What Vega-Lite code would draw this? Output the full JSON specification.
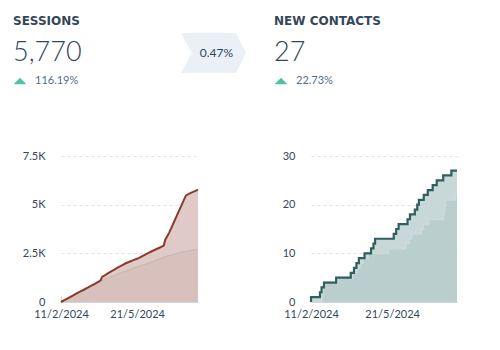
{
  "$schema": "https://vega.github.io/schema/vega-lite/v6.json",
  "padding": {"left": 13, "top": 15, "right": 5, "bottom": 5},
  "background": "white",
  "config": {
    "view": {"stroke": null},
    "font": "Lato",
    "title": {"anchor": "start", "font": "DejaVu Sans", "fontSize": 12, "fontWeight": "bold", "color": "#33475b", "subtitleFont": "Lato", "subtitleFontSize": 27, "subtitleFontWeight": 300, "subtitleColor": "#33475b", "subtitlePadding": 12, "offset": -50},
    "axis": {"labelFont": "Lato", "labelFontSize": 11, "labelColor": "#33475b", "title": null}
  },
  "datasets": {
    "sessions": [
      {"date": "2024-02-11", "series": "current", "value": 0},
      {"date": "2024-02-16", "series": "current", "value": 105},
      {"date": "2024-02-21", "series": "current", "value": 210},
      {"date": "2024-02-26", "series": "current", "value": 320},
      {"date": "2024-03-02", "series": "current", "value": 430},
      {"date": "2024-03-07", "series": "current", "value": 530},
      {"date": "2024-03-12", "series": "current", "value": 630},
      {"date": "2024-03-17", "series": "current", "value": 735},
      {"date": "2024-03-22", "series": "current", "value": 840},
      {"date": "2024-03-27", "series": "current", "value": 945},
      {"date": "2024-04-01", "series": "current", "value": 1060},
      {"date": "2024-04-03", "series": "current", "value": 1110},
      {"date": "2024-04-05", "series": "current", "value": 1290},
      {"date": "2024-04-09", "series": "current", "value": 1380},
      {"date": "2024-04-13", "series": "current", "value": 1480},
      {"date": "2024-04-17", "series": "current", "value": 1570},
      {"date": "2024-04-21", "series": "current", "value": 1660},
      {"date": "2024-04-26", "series": "current", "value": 1780},
      {"date": "2024-05-01", "series": "current", "value": 1880},
      {"date": "2024-05-06", "series": "current", "value": 1990},
      {"date": "2024-05-11", "series": "current", "value": 2070},
      {"date": "2024-05-16", "series": "current", "value": 2150},
      {"date": "2024-05-21", "series": "current", "value": 2220},
      {"date": "2024-05-26", "series": "current", "value": 2320},
      {"date": "2024-05-31", "series": "current", "value": 2420},
      {"date": "2024-06-05", "series": "current", "value": 2520},
      {"date": "2024-06-10", "series": "current", "value": 2620},
      {"date": "2024-06-15", "series": "current", "value": 2710},
      {"date": "2024-06-20", "series": "current", "value": 2800},
      {"date": "2024-06-25", "series": "current", "value": 2900},
      {"date": "2024-06-27", "series": "current", "value": 3200},
      {"date": "2024-07-02", "series": "current", "value": 3550},
      {"date": "2024-07-06", "series": "current", "value": 3900},
      {"date": "2024-07-10", "series": "current", "value": 4250},
      {"date": "2024-07-15", "series": "current", "value": 4680},
      {"date": "2024-07-20", "series": "current", "value": 5120},
      {"date": "2024-07-24", "series": "current", "value": 5465},
      {"date": "2024-07-28", "series": "current", "value": 5560},
      {"date": "2024-08-01", "series": "current", "value": 5630},
      {"date": "2024-08-05", "series": "current", "value": 5700},
      {"date": "2024-08-09", "series": "current", "value": 5770},
      {"date": "2024-02-11", "series": "previous", "value": 0},
      {"date": "2024-02-21", "series": "previous", "value": 205},
      {"date": "2024-03-02", "series": "previous", "value": 410},
      {"date": "2024-03-12", "series": "previous", "value": 620},
      {"date": "2024-03-22", "series": "previous", "value": 830},
      {"date": "2024-04-01", "series": "previous", "value": 1040},
      {"date": "2024-04-11", "series": "previous", "value": 1200},
      {"date": "2024-04-21", "series": "previous", "value": 1360},
      {"date": "2024-05-01", "series": "previous", "value": 1520},
      {"date": "2024-05-11", "series": "previous", "value": 1660},
      {"date": "2024-05-21", "series": "previous", "value": 1800},
      {"date": "2024-05-31", "series": "previous", "value": 1930},
      {"date": "2024-06-10", "series": "previous", "value": 2070},
      {"date": "2024-06-20", "series": "previous", "value": 2220},
      {"date": "2024-06-30", "series": "previous", "value": 2360},
      {"date": "2024-07-10", "series": "previous", "value": 2470},
      {"date": "2024-07-20", "series": "previous", "value": 2570},
      {"date": "2024-07-30", "series": "previous", "value": 2650},
      {"date": "2024-08-09", "series": "previous", "value": 2700}
    ],
    "contacts": [
      {"date": "2024-02-11", "series": "current", "value": 0},
      {"date": "2024-02-11", "series": "current", "value": 1},
      {"date": "2024-02-22", "series": "current", "value": 2},
      {"date": "2024-02-24", "series": "current", "value": 3},
      {"date": "2024-02-27", "series": "current", "value": 4},
      {"date": "2024-03-13", "series": "current", "value": 5},
      {"date": "2024-03-31", "series": "current", "value": 6},
      {"date": "2024-04-04", "series": "current", "value": 7},
      {"date": "2024-04-07", "series": "current", "value": 8},
      {"date": "2024-04-10", "series": "current", "value": 9},
      {"date": "2024-04-17", "series": "current", "value": 10},
      {"date": "2024-04-25", "series": "current", "value": 11},
      {"date": "2024-04-28", "series": "current", "value": 12},
      {"date": "2024-04-30", "series": "current", "value": 13},
      {"date": "2024-05-23", "series": "current", "value": 14},
      {"date": "2024-05-26", "series": "current", "value": 15},
      {"date": "2024-05-29", "series": "current", "value": 16},
      {"date": "2024-06-09", "series": "current", "value": 17},
      {"date": "2024-06-12", "series": "current", "value": 18},
      {"date": "2024-06-18", "series": "current", "value": 19},
      {"date": "2024-06-21", "series": "current", "value": 20},
      {"date": "2024-06-23", "series": "current", "value": 21},
      {"date": "2024-06-29", "series": "current", "value": 22},
      {"date": "2024-07-04", "series": "current", "value": 23},
      {"date": "2024-07-10", "series": "current", "value": 24},
      {"date": "2024-07-15", "series": "current", "value": 25},
      {"date": "2024-07-23", "series": "current", "value": 26},
      {"date": "2024-08-02", "series": "current", "value": 27},
      {"date": "2024-08-09", "series": "current", "value": 27},
      {"date": "2024-02-11", "series": "previous", "value": 0},
      {"date": "2024-02-24", "series": "previous", "value": 1},
      {"date": "2024-02-25", "series": "previous", "value": 2},
      {"date": "2024-02-26", "series": "previous", "value": 3},
      {"date": "2024-02-28", "series": "previous", "value": 4},
      {"date": "2024-03-15", "series": "previous", "value": 5},
      {"date": "2024-04-02", "series": "previous", "value": 6},
      {"date": "2024-04-07", "series": "previous", "value": 7},
      {"date": "2024-04-11", "series": "previous", "value": 8},
      {"date": "2024-04-15", "series": "previous", "value": 9},
      {"date": "2024-04-21", "series": "previous", "value": 10},
      {"date": "2024-05-16", "series": "previous", "value": 11},
      {"date": "2024-06-07", "series": "previous", "value": 12},
      {"date": "2024-06-11", "series": "previous", "value": 13},
      {"date": "2024-06-14", "series": "previous", "value": 14},
      {"date": "2024-06-26", "series": "previous", "value": 15},
      {"date": "2024-06-28", "series": "previous", "value": 16},
      {"date": "2024-07-05", "series": "previous", "value": 17},
      {"date": "2024-07-23", "series": "previous", "value": 18},
      {"date": "2024-07-24", "series": "previous", "value": 19},
      {"date": "2024-07-25", "series": "previous", "value": 20},
      {"date": "2024-07-26", "series": "previous", "value": 21},
      {"date": "2024-08-07", "series": "previous", "value": 22},
      {"date": "2024-08-09", "series": "previous", "value": 22}
    ]
  },
  "spacing": 5,
  "vconcat": [
    {
      "spacing": 28,
      "hconcat": [
        {
          "width": 140, "height": 128,
          "title": {"text": "SESSIONS", "subtitle": "5,770"},
          "data": {"values": [{"change": "116.19%"}]},
          "layer": [
            {"mark": {"type": "point", "shape": "M-1,0.5L0,-0.5L1,0.5Z", "size": 160, "filled": true, "color": "#4fc1a6", "opacity": 1},
             "encoding": {"x": {"datum": "icon", "type": "nominal", "scale": {"type": "point", "padding": 0, "domain": ["icon", "value"], "range": [7, 22]}, "axis": null}}},
            {"mark": {"type": "text", "align": "left", "baseline": "middle", "font": "Lato", "fontSize": 11, "color": "#516f90"},
             "encoding": {"x": {"datum": "value", "type": "nominal", "axis": null}, "text": {"field": "change"}}}
          ]
        },
        {
          "width": 65, "height": 72,
          "data": {"values": [{"rate": "0.47%"}]},
          "layer": [
            {"mark": {"type": "point", "shape": "M-1,-0.615L0.69,-0.615L1,0L0.69,0.615L-1,0.615L-0.67,0Z", "size": 4225, "filled": true, "color": "#eaf0f6", "opacity": 1, "strokeWidth": 0}, "encoding": {}},
            {"mark": {"type": "text", "align": "center", "baseline": "middle", "dx": 3, "font": "Lato", "fontSize": 12, "color": "#33475b"}, "encoding": {"text": {"field": "rate"}}}
          ]
        },
        {
          "width": 150, "height": 128,
          "title": {"text": "NEW CONTACTS", "subtitle": "27"},
          "data": {"values": [{"change": "22.73%"}]},
          "layer": [
            {"mark": {"type": "point", "shape": "M-1,0.5L0,-0.5L1,0.5Z", "size": 160, "filled": true, "color": "#4fc1a6", "opacity": 1},
             "encoding": {"x": {"datum": "icon", "type": "nominal", "scale": {"type": "point", "padding": 0, "domain": ["icon", "value"], "range": [7, 22]}, "axis": null}}},
            {"mark": {"type": "text", "align": "left", "baseline": "middle", "font": "Lato", "fontSize": 11, "color": "#516f90"},
             "encoding": {"x": {"datum": "value", "type": "nominal", "axis": null}, "text": {"field": "change"}}}
          ]
        }
      ]
    },
    {
      "spacing": 1,
      "hconcat": [
        {"width": 1, "height": 146, "data": {"values": [{}]}, "mark": {"type": "point", "opacity": 0, "size": 1}, "encoding": {}},
        {
          "width": 137, "height": 146,
          "data": {"name": "sessions"},
          "encoding": {
            "x": {"field": "date", "type": "temporal",
                  "scale": {"type": "utc", "nice": false, "domain": [{"year": 2024, "month": 2, "date": 11, "utc": true}, {"year": 2024, "month": 8, "date": 9, "utc": true}]},
                  "axis": {"values": [{"year": 2024, "month": 2, "date": 11, "utc": true}, {"year": 2024, "month": 5, "date": 21, "utc": true}], "format": "%-d/%-m/%Y", "grid": false, "domainColor": "#cbd6e2", "tickColor": "#cbd6e2", "tickSize": -6, "labelPadding": 12, "labelFlush": false, "labelOverlap": false}},
            "y": {"field": "value", "type": "quantitative",
                  "scale": {"domain": [0, 7500], "nice": false},
                  "axis": {"values": [0, 2500, 5000, 7500], "labelExpr": "datum.value == 0 ? '0' : replace(format(datum.value, '~s'), 'k', 'K')", "domain": false, "ticks": false, "gridColor": "#dfe3eb", "gridDash": [3, 3], "labelPadding": 16, "minExtent": 46}}
          },
          "layer": [
            {"transform": [{"filter": "datum.series == 'current'"}], "mark": {"type": "area", "color": "#dfcac7", "opacity": 1}},
            {"transform": [{"filter": "datum.series == 'previous'"}], "mark": {"type": "area", "color": "#b48c86", "opacity": 0.15}},
            {"transform": [{"filter": "datum.series == 'previous'"}], "mark": {"type": "line", "color": "#cdb9b6", "strokeWidth": 1.5}},
            {"transform": [{"filter": "datum.series == 'current'"}], "mark": {"type": "line", "color": "#8b3b2c", "strokeWidth": 2}}
          ]
        },
        {"width": 70, "height": 146, "data": {"values": [{}]}, "mark": {"type": "point", "opacity": 0, "size": 1}, "encoding": {}},
        {
          "width": 146, "height": 146,
          "data": {"name": "contacts"},
          "encoding": {
            "x": {"field": "date", "type": "temporal",
                  "scale": {"type": "utc", "nice": false, "domain": [{"year": 2024, "month": 2, "date": 11, "utc": true}, {"year": 2024, "month": 8, "date": 9, "utc": true}]},
                  "axis": {"values": [{"year": 2024, "month": 2, "date": 11, "utc": true}, {"year": 2024, "month": 5, "date": 21, "utc": true}], "format": "%-d/%-m/%Y", "grid": false, "domainColor": "#cbd6e2", "tickColor": "#cbd6e2", "tickSize": -6, "labelPadding": 12, "labelFlush": false, "labelOverlap": false}},
            "y": {"field": "value", "type": "quantitative",
                  "scale": {"domain": [0, 30], "nice": false},
                  "axis": {"values": [0, 10, 20, 30], "domain": false, "ticks": false, "gridColor": "#dfe3eb", "gridDash": [3, 3], "labelPadding": 16, "minExtent": 37}}
          },
          "layer": [
            {"transform": [{"filter": "datum.series == 'current'"}], "mark": {"type": "area", "interpolate": "step-after", "color": "#c8d8d8", "opacity": 1}},
            {"transform": [{"filter": "datum.series == 'previous'"}], "mark": {"type": "area", "interpolate": "step-after", "color": "#6f9a9c", "opacity": 0.15}},
            {"transform": [{"filter": "datum.series == 'previous'"}], "mark": {"type": "line", "interpolate": "step-after", "color": "#cbd9d9", "strokeWidth": 2}},
            {"transform": [{"filter": "datum.series == 'current'"}], "mark": {"type": "line", "interpolate": "step-after", "color": "#2e605e", "strokeWidth": 2.2}}
          ]
        }
      ]
    }
  ]
}
